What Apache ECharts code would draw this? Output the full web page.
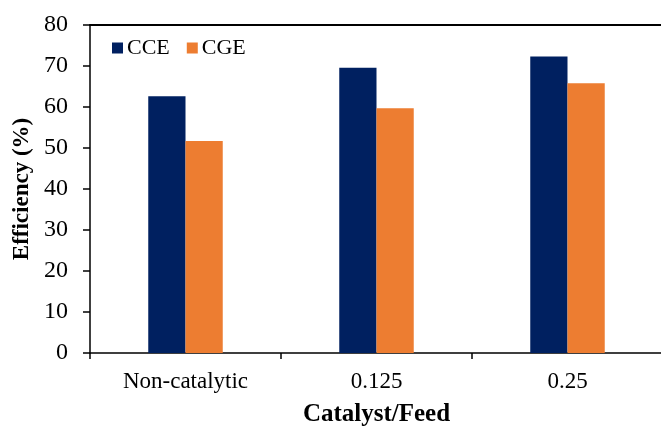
<!DOCTYPE html>
<html>
<head>
<meta charset="utf-8">
<script src="https://cdn.jsdelivr.net/npm/echarts@6/dist/echarts.min.js"></script>
<style>
  html, body { margin: 0; padding: 0; background: #fff; }
  #chart { width: 661px; height: 428px; }
</style>
</head>
<body>
<div id="chart"></div>
<script>
// data
const categories = ['Non-catalytic', '0.125', '0.25'];
const cceValues = [62.6, 69.6, 72.3];
const cgeValues = [51.7, 59.7, 65.8];
const yTicks = { min: 0, max: 80, interval: 10 };

const serif = 'Liberation Serif, Times New Roman, serif';

let myChart = echarts.init(document.getElementById('chart'));
myChart.setOption({
  animation: false,
  backgroundColor: '#fff',
  textStyle: { fontFamily: serif, color: '#000' },
  legend: {
    left: 107,
    top: 32,
    itemWidth: 11,
    itemHeight: 11,
    itemGap: 17,
    icon: 'rect',
    textStyle: { fontFamily: serif, fontSize: 22, color: '#000', padding: [0, 0, 0, -1] },
    data: ['CCE', 'CGE']
  },
  grid: { left: 90, right: -2, top: 25, bottom: 75, outerBoundsMode: 'none' },
  xAxis: [
    {
      type: 'category',
      data: categories,
      name: 'Catalyst/Feed',
      nameLocation: 'middle',
      nameGap: 49,
      nameTextStyle: { fontFamily: serif, fontSize: 25, fontWeight: 'bold', color: '#000' },
      axisLine: { lineStyle: { color: '#000', width: 1.5 } },
      axisTick: { show: true, length: 6, lineStyle: { color: '#000', width: 1.5 } },
      axisLabel: { fontFamily: serif, fontSize: 23, color: '#000', margin: 17 }
    },
    {
      type: 'category',
      position: 'top',
      data: categories,
      axisLine: { lineStyle: { color: '#000', width: 2 } },
      axisTick: { show: false },
      axisLabel: { show: false }
    }
  ],
  yAxis: {
    type: 'value',
    min: yTicks.min,
    max: yTicks.max,
    interval: yTicks.interval,
    name: 'Efficiency (%)',
    nameLocation: 'middle',
    nameGap: 56,
    nameTextStyle: { fontFamily: serif, fontSize: 23, fontWeight: 'bold', color: '#000' },
    axisLine: { show: true, lineStyle: { color: '#000', width: 1.5 } },
    axisTick: { show: true, length: 7, lineStyle: { color: '#000', width: 1.5 } },
    axisLabel: { fontFamily: serif, fontSize: 24, color: '#000', margin: 22 },
    splitLine: { show: false }
  },
  series: [
    {
      name: 'CCE',
      type: 'bar',
      data: cceValues,
      barGap: '0%',
      barCategoryGap: '61%',
      itemStyle: { color: '#002060' }
    },
    {
      name: 'CGE',
      type: 'bar',
      data: cgeValues,
      barGap: '0%',
      barCategoryGap: '61%',
      itemStyle: { color: '#ED7D31' }
    }
  ]
});
</script>
</body>
</html>
